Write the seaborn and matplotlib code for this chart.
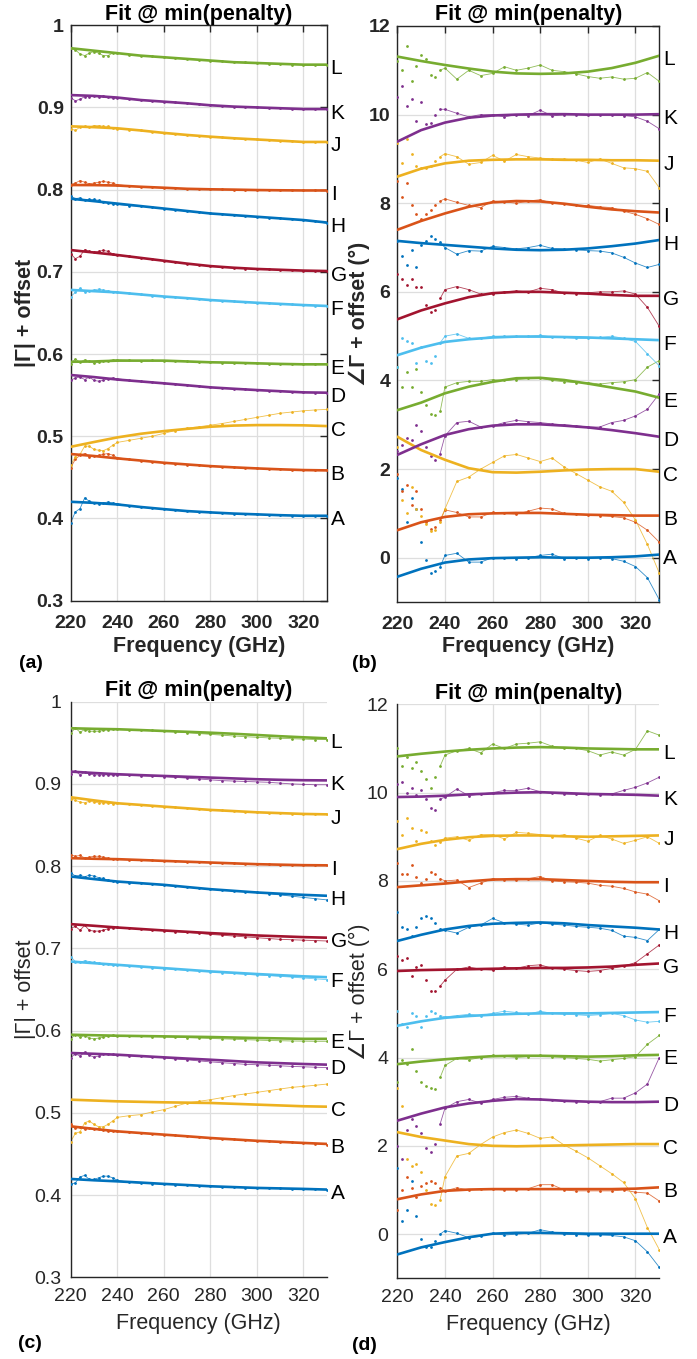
import numpy as np
import matplotlib
matplotlib.use("Agg")
import matplotlib.pyplot as plt
import seaborn as sns

# ---------------- data ----------------
freq_meas = [220, 222, 224, 226, 228, 230, 232, 234, 236, 238, 240,
             245, 250, 255, 260, 265, 270, 275, 280, 285, 290, 295,
             300, 305, 310, 315, 320, 325, 330]
freq_fit = [220, 230, 240, 250, 260, 270, 280, 290, 300, 310, 320, 330]
series = ["A", "B", "C", "D", "E", "F", "G", "H", "I", "J", "K", "L"]
colors = ["#0072BD", "#D95319", "#EDB120", "#7E2F8E", "#77AC30", "#4DBEEE",
          "#A2142F", "#0072BD", "#D95319", "#EDB120", "#7E2F8E", "#77AC30"]

# panel (a): |Gamma| + offset
fit_a = {
    "A": [0.4203, 0.419, 0.4171, 0.414, 0.4114, 0.409, 0.4074, 0.406, 0.405, 0.404, 0.4033, 0.4033],
    "B": [0.4784, 0.476, 0.4731, 0.4705, 0.4678, 0.4657, 0.4637, 0.4622, 0.4609, 0.4598, 0.4589, 0.4585],
    "C": [0.4872, 0.493, 0.4986, 0.503, 0.5063, 0.509, 0.5116, 0.513, 0.5136, 0.5136, 0.5133, 0.5124],
    "D": [0.5745, 0.572, 0.569, 0.5667, 0.5644, 0.562, 0.5595, 0.5578, 0.5562, 0.5548, 0.5534, 0.553],
    "E": [0.5906, 0.591, 0.592, 0.592, 0.592, 0.591, 0.590, 0.5895, 0.5887, 0.588, 0.5875, 0.5875],
    "F": [0.678, 0.6765, 0.675, 0.6725, 0.670, 0.668, 0.6657, 0.664, 0.6624, 0.661, 0.6596, 0.6585],
    "G": [0.7265, 0.7235, 0.7205, 0.717, 0.7135, 0.710, 0.707, 0.705, 0.7035, 0.7025, 0.7015, 0.701],
    "H": [0.789, 0.786, 0.783, 0.780, 0.777, 0.774, 0.771, 0.769, 0.767, 0.765, 0.763, 0.760],
    "I": [0.8056, 0.8055, 0.805, 0.8035, 0.8023, 0.801, 0.8004, 0.800, 0.7995, 0.7992, 0.799, 0.799],
    "J": [0.877, 0.876, 0.8746, 0.872, 0.869, 0.8665, 0.8644, 0.8625, 0.861, 0.8595, 0.858, 0.858],
    "K": [0.915, 0.914, 0.912, 0.909, 0.907, 0.905, 0.9026, 0.901, 0.900, 0.899, 0.898, 0.898],
    "L": [0.972, 0.969, 0.966, 0.963, 0.961, 0.959, 0.957, 0.955, 0.954, 0.953, 0.952, 0.952],
}
meas_a = {
    "A": [0.395, 0.408, 0.412, 0.425, 0.421, 0.419, 0.418, 0.419, 0.420, 0.419, 0.418, 0.4155, 0.414, 0.4125, 0.4115, 0.410, 0.409, 0.408, 0.4075, 0.4065, 0.406, 0.4055, 0.405, 0.4045, 0.404, 0.4035, 0.4033, 0.403, 0.403],
    "B": [0.462, 0.472, 0.477, 0.479, 0.475, 0.476, 0.477, 0.478, 0.479, 0.477, 0.474, 0.472, 0.4705, 0.469, 0.468, 0.4665, 0.4655, 0.4645, 0.4637, 0.463, 0.4622, 0.4615, 0.4609, 0.4603, 0.4598, 0.4593, 0.4589, 0.4586, 0.4584],
    "C": [0.465, 0.475, 0.478, 0.488, 0.488, 0.484, 0.483, 0.4825, 0.485, 0.489, 0.4925, 0.495, 0.4975, 0.500, 0.5035, 0.507, 0.510, 0.5115, 0.5135, 0.5155, 0.518, 0.5205, 0.523, 0.5255, 0.528, 0.5295, 0.531, 0.532, 0.5327],
    "D": [0.568, 0.571, 0.572, 0.569, 0.572, 0.568, 0.567, 0.568, 0.570, 0.571, 0.570, 0.568, 0.5667, 0.5655, 0.5644, 0.5632, 0.562, 0.5607, 0.5595, 0.5587, 0.5578, 0.557, 0.5562, 0.5555, 0.5548, 0.554, 0.5534, 0.5532, 0.553],
    "E": [0.588, 0.594, 0.590, 0.593, 0.591, 0.589, 0.590, 0.591, 0.592, 0.593, 0.593, 0.5925, 0.592, 0.5922, 0.592, 0.5915, 0.591, 0.5905, 0.590, 0.5897, 0.5895, 0.589, 0.5887, 0.5884, 0.588, 0.5877, 0.5875, 0.5875, 0.5873],
    "F": [0.670, 0.675, 0.680, 0.676, 0.677, 0.678, 0.679, 0.678, 0.677, 0.676, 0.675, 0.674, 0.6725, 0.671, 0.670, 0.669, 0.668, 0.667, 0.6657, 0.665, 0.664, 0.6632, 0.6624, 0.6617, 0.661, 0.6603, 0.6596, 0.659, 0.6585],
    "G": [0.722, 0.716, 0.719, 0.727, 0.725, 0.724, 0.725, 0.726, 0.725, 0.722, 0.7205, 0.719, 0.717, 0.7152, 0.7135, 0.7118, 0.710, 0.7085, 0.707, 0.706, 0.705, 0.704, 0.7035, 0.703, 0.7025, 0.702, 0.7015, 0.7012, 0.701],
    "H": [0.792, 0.789, 0.790, 0.787, 0.788, 0.788, 0.787, 0.785, 0.784, 0.783, 0.782, 0.7805, 0.780, 0.7785, 0.777, 0.7755, 0.774, 0.7725, 0.771, 0.770, 0.769, 0.768, 0.767, 0.766, 0.765, 0.764, 0.763, 0.7615, 0.759],
    "I": [0.806, 0.808, 0.811, 0.809, 0.807, 0.808, 0.809, 0.810, 0.809, 0.808, 0.806, 0.8045, 0.8035, 0.803, 0.8023, 0.8016, 0.801, 0.8007, 0.8004, 0.8002, 0.800, 0.7997, 0.7995, 0.7993, 0.7992, 0.7991, 0.799, 0.799, 0.7988],
    "J": [0.874, 0.872, 0.876, 0.877, 0.876, 0.878, 0.878, 0.877, 0.877, 0.875, 0.874, 0.873, 0.872, 0.8705, 0.869, 0.868, 0.8665, 0.8655, 0.8644, 0.8635, 0.8625, 0.862, 0.861, 0.8603, 0.8595, 0.8588, 0.858, 0.858, 0.8578],
    "K": [0.912, 0.908, 0.910, 0.913, 0.913, 0.914, 0.913, 0.914, 0.913, 0.912, 0.911, 0.910, 0.909, 0.908, 0.907, 0.906, 0.905, 0.904, 0.903, 0.902, 0.901, 0.9005, 0.900, 0.8995, 0.899, 0.8985, 0.898, 0.898, 0.8978],
    "L": [0.972, 0.970, 0.965, 0.963, 0.966, 0.968, 0.966, 0.963, 0.963, 0.966, 0.966, 0.964, 0.963, 0.962, 0.961, 0.960, 0.959, 0.958, 0.957, 0.956, 0.955, 0.955, 0.954, 0.953, 0.953, 0.952, 0.952, 0.952, 0.951],
}

# panel (b): angle(Gamma) + offset (deg)
fit_b = {
    "A": [-0.43, -0.25, -0.11, -0.04, -0.01, 0.0, 0.01, 0.0, 0.0, 0.01, 0.03, 0.07],
    "B": [0.62, 0.80, 0.92, 0.98, 1.0, 1.01, 1.01, 0.99, 0.97, 0.96, 0.95, 0.95],
    "C": [2.73, 2.43, 2.21, 2.02, 1.93, 1.92, 1.94, 1.97, 1.99, 2.0, 2.0, 1.94],
    "D": [2.32, 2.56, 2.77, 2.90, 2.98, 3.01, 3.01, 2.98, 2.94, 2.88, 2.81, 2.73],
    "E": [3.33, 3.50, 3.71, 3.86, 3.97, 4.05, 4.06, 4.01, 3.93, 3.84, 3.75, 3.61],
    "F": [4.57, 4.74, 4.87, 4.93, 4.97, 4.99, 4.99, 4.98, 4.97, 4.95, 4.93, 4.91],
    "G": [5.38, 5.58, 5.74, 5.88, 5.97, 6.0, 6.0, 5.98, 5.96, 5.93, 5.91, 5.91],
    "H": [7.15, 7.10, 7.06, 7.02, 6.98, 6.95, 6.94, 6.95, 6.98, 7.03, 7.09, 7.17],
    "I": [7.40, 7.60, 7.77, 7.92, 8.02, 8.05, 8.04, 7.99, 7.92, 7.86, 7.82, 7.79],
    "J": [8.60, 8.78, 8.90, 8.96, 8.98, 8.99, 8.99, 8.98, 8.98, 8.97, 8.97, 8.96],
    "K": [9.39, 9.65, 9.82, 9.93, 9.98, 10.0, 10.01, 10.01, 10.0, 10.0, 10.0, 10.01],
    "L": [11.31, 11.21, 11.12, 11.04, 10.97, 10.93, 10.92, 10.93, 10.97, 11.05, 11.17, 11.33],
}
meas_b = {
    "A": [1.8, 1.55, 0.8, 1.35, 1.1, 0.35, -0.05, -0.35, -0.3, -0.2, 0.05, 0.1, -0.1, -0.1, 0.0, 0.0, -0.02, 0.0, 0.05, 0.08, -0.02, 0.0, -0.02, 0.0, -0.02, -0.08, -0.2, -0.45, -0.95],
    "B": [1.9, 1.5, 1.65, 1.2, 1.5, 1.1, 0.8, 0.65, 0.7, 0.85, 1.08, 1.02, 0.92, 0.92, 1.02, 1.0, 0.98, 1.05, 1.12, 1.1, 1.0, 0.98, 0.97, 0.95, 0.93, 0.9, 0.8, 0.62, 0.35],
    "C": [2.5, 1.3, 1.0, 1.6, 1.1, 0.95, 0.75, 0.6, 0.62, 0.8, 1.1, 1.72, 1.82, 2.0, 2.15, 2.3, 2.33, 2.25, 2.17, 2.25, 2.05, 1.9, 1.75, 1.6, 1.5, 1.25, 0.85, 0.3, -0.35],
    "D": [2.4, 2.55, 2.7, 2.65, 3.0, 2.85, 2.5, 2.3, 2.2, 2.35, 2.75, 3.05, 3.08, 2.95, 2.98, 3.05, 3.1, 3.07, 3.05, 3.02, 3.0, 2.98, 2.95, 2.95, 3.05, 3.1, 3.2, 3.35, 3.7],
    "E": [4.3, 3.85, 4.2, 3.85, 4.25, 3.75, 3.45, 3.25, 3.22, 3.3, 3.85, 3.95, 3.98, 3.98, 4.02, 4.0, 4.02, 4.05, 4.05, 4.0, 3.97, 3.95, 3.95, 3.92, 3.95, 3.97, 4.02, 4.3, 4.45],
    "F": [4.3, 4.95, 4.9, 4.85, 4.4, 4.75, 4.45, 4.4, 4.55, 4.85, 5.0, 5.05, 4.95, 4.95, 5.0, 5.0, 5.0, 5.0, 5.02, 4.98, 4.97, 4.95, 4.95, 4.97, 5.0, 4.95, 4.88, 4.6, 4.33],
    "G": [6.4, 6.3, 6.15, 6.3, 6.1, 6.1, 5.7, 5.55, 5.6, 5.85, 6.05, 6.12, 6.05, 5.95, 5.95, 6.0, 6.02, 6.0, 6.08, 6.05, 5.97, 5.96, 5.98, 6.0, 6.0, 6.02, 5.95, 5.65, 5.22],
    "H": [7.15, 6.8, 6.6, 6.95, 6.55, 7.05, 7.15, 7.25, 7.2, 7.12, 7.0, 6.85, 6.93, 6.92, 7.03, 7.0, 6.97, 7.0, 7.05, 6.98, 6.97, 6.95, 6.93, 6.92, 6.88, 6.78, 6.65, 6.55, 6.62],
    "I": [8.5, 8.15, 8.45, 7.95, 7.75, 7.65, 7.75, 7.85, 7.95, 8.05, 8.1, 8.02, 7.95, 7.9, 8.05, 8.03, 8.0, 8.05, 8.08, 8.0, 7.98, 7.95, 7.95, 7.92, 7.9, 7.82, 7.75, 7.65, 7.52],
    "J": [9.35, 8.9, 9.45, 9.1, 8.85, 8.8, 8.8, 8.85, 8.95, 9.05, 9.12, 9.05, 8.88, 8.92, 9.08, 8.95, 9.1, 9.05, 9.02, 9.0, 9.0, 8.97, 8.92, 9.0, 8.9, 8.8, 8.78, 8.72, 8.35],
    "K": [10.4, 10.65, 10.2, 10.35, 9.85, 10.28, 9.78, 9.8, 10.0, 10.12, 10.12, 10.03, 9.95, 10.0, 10.0, 9.95, 10.0, 9.98, 10.1, 9.97, 10.0, 10.0, 9.99, 10.0, 10.0, 9.98, 9.95, 9.85, 9.68],
    "L": [11.2, 11.0, 11.55, 10.75, 11.1, 11.35, 11.25, 10.9, 10.85, 11.0, 11.05, 10.8, 11.0, 10.88, 10.93, 11.08, 11.0, 11.05, 11.12, 11.0, 10.97, 10.92, 10.86, 10.82, 10.85, 10.8, 10.82, 10.95, 10.75],
}

# panel (c): |Gamma| + offset
fit_c = {
    "A": [0.4196, 0.418, 0.4167, 0.4152, 0.4136, 0.4122, 0.4107, 0.4097, 0.4087, 0.4081, 0.4075, 0.4067],
    "B": [0.4836, 0.4805, 0.4775, 0.4755, 0.4735, 0.4715, 0.4694, 0.4677, 0.466, 0.4647, 0.4634, 0.4622],
    "C": [0.516, 0.515, 0.514, 0.5134, 0.5128, 0.5124, 0.512, 0.511, 0.510, 0.509, 0.508, 0.5075],
    "D": [0.5728, 0.5718, 0.5707, 0.5691, 0.5675, 0.566, 0.5646, 0.563, 0.5614, 0.5604, 0.5594, 0.5586],
    "E": [0.595, 0.5944, 0.5938, 0.5934, 0.593, 0.5926, 0.5922, 0.5916, 0.591, 0.5905, 0.590, 0.590],
    "F": [0.684, 0.682, 0.680, 0.678, 0.676, 0.674, 0.672, 0.6704, 0.6688, 0.6674, 0.666, 0.665],
    "G": [0.7295, 0.7275, 0.7254, 0.7236, 0.7218, 0.7202, 0.7186, 0.7172, 0.7157, 0.7147, 0.7137, 0.713],
    "H": [0.7874, 0.7843, 0.7813, 0.7793, 0.7773, 0.7746, 0.772, 0.770, 0.768, 0.7665, 0.7651, 0.764],
    "I": [0.8097, 0.809, 0.8085, 0.8075, 0.8064, 0.8054, 0.8044, 0.8034, 0.8024, 0.8018, 0.8012, 0.801],
    "J": [0.8838, 0.880, 0.8765, 0.8745, 0.8724, 0.8704, 0.8684, 0.867, 0.8655, 0.8645, 0.8635, 0.863],
    "K": [0.915, 0.9133, 0.9118, 0.9107, 0.9097, 0.9087, 0.9077, 0.9067, 0.9057, 0.905, 0.9045, 0.9043],
    "L": [0.9677, 0.967, 0.9665, 0.9655, 0.9644, 0.9634, 0.9623, 0.961, 0.9595, 0.958, 0.9567, 0.9555],
}
meas_c = {
    "A": [0.413, 0.415, 0.422, 0.424, 0.419, 0.419, 0.421, 0.423, 0.423, 0.421, 0.418, 0.4155, 0.4145, 0.414, 0.4136, 0.4128, 0.4122, 0.4115, 0.4107, 0.4102, 0.4097, 0.4092, 0.4087, 0.4084, 0.408, 0.4077, 0.4074, 0.407, 0.4065],
    "B": [0.486, 0.481, 0.483, 0.480, 0.481, 0.480, 0.480, 0.479, 0.478, 0.478, 0.4775, 0.4765, 0.4755, 0.4745, 0.4735, 0.4725, 0.4715, 0.4705, 0.4694, 0.4685, 0.4677, 0.4668, 0.466, 0.4653, 0.4647, 0.464, 0.4633, 0.4625, 0.4615],
    "C": [0.465, 0.475, 0.477, 0.488, 0.490, 0.486, 0.483, 0.483, 0.486, 0.490, 0.4945, 0.4965, 0.4978, 0.501, 0.5039, 0.508, 0.512, 0.514, 0.516, 0.5185, 0.521, 0.523, 0.5249, 0.527, 0.529, 0.531, 0.5322, 0.5335, 0.535],
    "D": [0.567, 0.572, 0.569, 0.574, 0.570, 0.568, 0.569, 0.571, 0.571, 0.571, 0.5705, 0.5695, 0.569, 0.568, 0.567, 0.5655, 0.5645, 0.5632, 0.562, 0.561, 0.560, 0.559, 0.5585, 0.558, 0.5572, 0.5565, 0.556, 0.5555, 0.555],
    "E": [0.590, 0.595, 0.592, 0.594, 0.591, 0.590, 0.591, 0.592, 0.593, 0.5945, 0.594, 0.5935, 0.593, 0.5928, 0.5925, 0.592, 0.5915, 0.591, 0.5905, 0.590, 0.5895, 0.589, 0.5885, 0.588, 0.5877, 0.5874, 0.5872, 0.587, 0.587],
    "F": [0.690, 0.684, 0.683, 0.685, 0.684, 0.683, 0.682, 0.681, 0.6805, 0.680, 0.6795, 0.6785, 0.6775, 0.6765, 0.6755, 0.6745, 0.6735, 0.6725, 0.6715, 0.6705, 0.6695, 0.6685, 0.6677, 0.667, 0.666, 0.665, 0.664, 0.663, 0.662],
    "G": [0.724, 0.727, 0.722, 0.728, 0.722, 0.721, 0.721, 0.722, 0.724, 0.725, 0.7255, 0.7245, 0.7235, 0.7225, 0.7215, 0.7205, 0.7195, 0.7183, 0.717, 0.716, 0.715, 0.714, 0.713, 0.712, 0.711, 0.7105, 0.710, 0.7095, 0.709],
    "H": [0.792, 0.788, 0.789, 0.787, 0.789, 0.788, 0.786, 0.785, 0.783, 0.782, 0.781, 0.780, 0.779, 0.778, 0.777, 0.7757, 0.7745, 0.773, 0.772, 0.771, 0.770, 0.769, 0.768, 0.7665, 0.765, 0.7635, 0.762, 0.7605, 0.759],
    "I": [0.814, 0.812, 0.813, 0.810, 0.811, 0.812, 0.812, 0.811, 0.810, 0.809, 0.8085, 0.808, 0.8075, 0.807, 0.8064, 0.8058, 0.8054, 0.8049, 0.8044, 0.8039, 0.8034, 0.8029, 0.8024, 0.8021, 0.8018, 0.8015, 0.8012, 0.801, 0.8008],
    "J": [0.882, 0.880, 0.878, 0.877, 0.879, 0.878, 0.877, 0.877, 0.8765, 0.876, 0.8765, 0.8755, 0.8745, 0.8735, 0.8724, 0.8714, 0.8704, 0.8694, 0.8684, 0.8677, 0.867, 0.8662, 0.8655, 0.865, 0.8645, 0.864, 0.8635, 0.8632, 0.863],
    "K": [0.912, 0.916, 0.911, 0.914, 0.912, 0.911, 0.911, 0.911, 0.911, 0.911, 0.911, 0.9105, 0.910, 0.9095, 0.909, 0.908, 0.907, 0.906, 0.905, 0.904, 0.9035, 0.903, 0.9025, 0.902, 0.901, 0.900, 0.8995, 0.899, 0.899],
    "L": [0.962, 0.968, 0.963, 0.966, 0.964, 0.964, 0.964, 0.965, 0.966, 0.9665, 0.9665, 0.966, 0.9655, 0.965, 0.9644, 0.9634, 0.9623, 0.9613, 0.9603, 0.9593, 0.9583, 0.9575, 0.9567, 0.956, 0.9555, 0.955, 0.9545, 0.954, 0.954],
}

# panel (d): angle(Gamma) + offset (deg)
fit_d = {
    "A": [-0.46, -0.30, -0.18, -0.07, 0.01, 0.03, 0.03, 0.02, 0.01, 0.01, 0.01, 0.01],
    "B": [0.79, 0.90, 0.98, 1.01, 1.02, 1.02, 1.02, 1.02, 1.02, 1.02, 1.03, 1.06],
    "C": [2.31, 2.20, 2.12, 2.04, 2.0, 1.99, 2.0, 2.01, 2.02, 2.03, 2.04, 2.04],
    "D": [2.57, 2.73, 2.87, 2.96, 3.02, 3.06, 3.05, 3.02, 3.0, 2.99, 2.99, 3.0],
    "E": [3.85, 3.91, 3.96, 4.0, 4.03, 4.04, 4.04, 4.03, 4.02, 4.03, 4.05, 4.06],
    "F": [4.72, 4.82, 4.90, 4.94, 4.97, 4.99, 5.0, 5.0, 5.0, 5.01, 5.02, 5.03],
    "G": [5.96, 5.98, 5.99, 6.0, 6.01, 6.02, 6.03, 6.03, 6.04, 6.06, 6.10, 6.13],
    "H": [6.64, 6.78, 6.90, 6.98, 7.03, 7.05, 7.06, 7.04, 7.0, 6.97, 6.94, 6.90],
    "I": [7.86, 7.90, 7.94, 7.99, 8.03, 8.04, 8.04, 8.02, 8.0, 7.98, 7.97, 7.97],
    "J": [8.72, 8.84, 8.93, 8.99, 9.02, 9.03, 9.03, 9.01, 9.0, 9.01, 9.02, 9.03],
    "K": [9.90, 9.91, 9.93, 9.96, 9.98, 10.0, 10.01, 9.99, 9.97, 9.96, 9.95, 9.93],
    "L": [10.82, 10.88, 10.93, 10.97, 11.0, 11.02, 11.03, 11.02, 11.0, 10.99, 10.98, 10.98],
}
meas_d = {
    "A": [1.5, 0.3, 0.55, 1.2, 0.4, -0.1, -0.3, -0.3, -0.15, 0.0, 0.08, 0.02, -0.08, -0.05, 0.02, -0.02, 0.0, 0.02, 0.1, 0.05, 0.0, -0.01, -0.02, -0.02, -0.03, -0.06, -0.15, -0.4, -0.75],
    "B": [0.55, 1.0, 1.3, 1.05, 0.85, 1.1, 1.15, 1.2, 1.15, 1.05, 0.98, 1.05, 1.0, 1.02, 1.02, 1.0, 1.0, 1.03, 1.12, 1.12, 1.0, 0.98, 0.98, 0.98, 0.98, 1.0, 0.95, 0.93, 0.75],
    "C": [3.3, 2.9, 1.7, 1.55, 1.6, 1.4, 1.0, 0.68, 0.65, 0.78, 1.3, 1.77, 1.83, 2.03, 2.2, 2.3, 2.36, 2.28, 2.17, 2.2, 2.02, 1.88, 1.73, 1.55, 1.37, 1.17, 0.8, 0.15, -0.35],
    "D": [2.0, 1.7, 2.35, 2.6, 2.45, 2.3, 1.95, 1.85, 2.05, 2.5, 2.85, 3.0, 3.05, 2.97, 3.05, 3.1, 3.12, 3.08, 3.05, 3.03, 3.02, 3.0, 3.0, 3.0, 3.08, 3.08, 3.2, 3.4, 4.0],
    "E": [3.45, 3.95, 3.85, 4.2, 3.7, 3.45, 3.35, 3.3, 3.28, 3.55, 3.82, 3.98, 3.95, 4.0, 4.05, 4.03, 4.0, 4.02, 4.05, 4.02, 4.0, 3.98, 3.96, 3.92, 3.95, 3.98, 4.02, 4.3, 4.5],
    "F": [5.05, 4.75, 4.7, 5.0, 4.95, 4.7, 4.95, 5.05, 5.0, 4.95, 4.92, 4.95, 4.98, 4.95, 5.0, 5.05, 5.02, 4.98, 5.05, 5.0, 4.98, 4.97, 4.95, 4.97, 5.0, 4.95, 4.85, 4.8, 4.82],
    "G": [6.3, 6.2, 6.25, 5.85, 6.05, 6.1, 5.75, 5.5, 5.5, 5.62, 5.75, 6.0, 6.05, 6.0, 5.98, 6.05, 6.02, 6.08, 6.1, 6.02, 6.0, 5.97, 5.95, 5.97, 6.02, 6.07, 6.15, 6.35, 6.55],
    "H": [7.3, 6.95, 6.9, 6.75, 6.95, 7.15, 7.2, 7.15, 7.05, 6.92, 6.88, 6.82, 6.95, 7.0, 7.15, 7.05, 7.02, 7.0, 7.05, 7.02, 7.0, 6.97, 6.95, 6.93, 6.88, 6.75, 6.72, 6.65, 6.9],
    "I": [8.4, 8.15, 8.15, 8.35, 8.1, 7.95, 8.05, 8.2, 8.15, 8.05, 8.0, 8.02, 7.85, 7.95, 8.05, 8.03, 8.02, 8.05, 8.1, 8.0, 7.98, 7.97, 7.95, 7.9, 7.88, 7.83, 7.75, 7.7, 7.55],
    "J": [9.35, 9.05, 9.42, 9.2, 8.9, 9.15, 9.1, 8.9, 8.82, 8.88, 8.97, 9.0, 8.92, 9.05, 9.05, 8.95, 9.1, 9.08, 9.05, 9.0, 9.05, 8.97, 8.9, 9.03, 8.95, 8.85, 8.92, 9.0, 8.85],
    "K": [10.2, 10.25, 10.0, 10.1, 9.95, 10.05, 9.85, 9.65, 9.6, 9.85, 9.9, 10.08, 9.93, 9.97, 10.0, 10.05, 10.05, 10.1, 10.02, 9.98, 9.97, 9.96, 9.96, 9.95, 9.97, 10.05, 10.12, 10.22, 10.35],
    "L": [11.0, 10.6, 10.8, 10.55, 10.7, 10.5, 10.3, 10.1, 10.35, 10.6, 10.85, 10.95, 11.0, 10.9, 11.1, 11.0, 11.1, 11.12, 11.15, 11.05, 11.0, 11.0, 10.95, 10.85, 10.92, 10.85, 10.98, 11.4, 11.3],
}

x_ticks = [220, 240, 260, 280, 300, 320]
mag_ticks = [0.3, 0.4, 0.5, 0.6, 0.7, 0.8, 0.9, 1.0]
mag_tick_labels = ["0.3", "0.4", "0.5", "0.6", "0.7", "0.8", "0.9", "1"]
ph_ticks = [0, 2, 4, 6, 8, 10, 12]
ph_tick_labels = ["0", "2", "4", "6", "8", "10", "12"]

# ---------------- style ----------------
sns.set_theme(style="white")
plt.rcParams["font.family"] = ["Liberation Sans", "DejaVu Sans"]
plt.rcParams["axes.unicode_minus"] = False

W, H = 697, 1359
fig = plt.figure(figsize=(W / 100, H / 100), dpi=100)
AXC = "#262626"

# (left, top, right, bottom) in pixels
panels = [
    dict(box=(70.7, 25.2, 326.7, 600.7), fit=fit_a, meas=meas_a, kind="mag", bold=True,
         ylabel="|Γ| + offset", ylx=-0.137, xly=-0.061, tag="(a)", tagxy=(19, 663)),
    dict(box=(397.3, 26.0, 659.3, 602.0), fit=fit_b, meas=meas_b, kind="ph", bold=True,
         ylabel="∠Γ + offset (°)", ylx=-0.105, xly=-0.059, tag="(b)", tagxy=(352, 663)),
    dict(box=(70.7, 701.7, 326.7, 1277.3), fit=fit_c, meas=meas_c, kind="mag", bold=False,
         ylabel="|Γ| + offset", ylx=-0.137, xly=-0.062, tag="(c)", tagxy=(18, 1344)),
    dict(box=(397.3, 704.3, 659.3, 1278.3), fit=fit_d, meas=meas_d, kind="ph", bold=False,
         ylabel="∠Γ + offset (°)", ylx=-0.105, xly=-0.062, tag="(d)", tagxy=(352, 1346)),
]

fm = np.array(freq_meas, dtype=float)

for p in panels:
    l, t, r, b = p["box"]
    ax = fig.add_axes([l / W, 1 - b / H, (r - l) / W, (b - t) / H])
    wt = "bold" if p["bold"] else "normal"

    for lab, col in zip(series, colors):
        y = np.array(p["meas"][lab], dtype=float)
        start = 0 if p["kind"] == "mag" else 9
        sns.lineplot(x=fm[start:], y=y[start:], ax=ax, color=col, linewidth=0.6,
                     alpha=0.8, estimator=None, sort=False, legend=False)
        sns.scatterplot(x=fm, y=y, ax=ax, color=col, s=4, linewidth=0,
                        legend=False, zorder=3)
        sns.lineplot(x=freq_fit, y=p["fit"][lab], ax=ax, color=col, linewidth=1.9,
                     estimator=None, sort=False, legend=False, zorder=4)
        ax.annotate(lab, xy=(330, p["fit"][lab][-1]), xycoords="data",
                    xytext=(4, -4), textcoords="offset pixels",
                    ha="left", va="center", fontsize=15, color="black",
                    annotation_clip=False)

    ax.set_xlim(220, 330)
    ax.set_xticks(x_ticks)
    ax.set_xticklabels([str(v) for v in x_ticks])
    if p["kind"] == "mag":
        ax.set_ylim(0.3, 1.0)
        ax.set_yticks(mag_ticks)
        ax.set_yticklabels(mag_tick_labels)
    else:
        ax.set_ylim(-1, 12)
        ax.set_yticks(ph_ticks)
        ax.set_yticklabels(ph_tick_labels)

    ax.grid(True, color="#dedede", linewidth=0.9)
    ax.set_axisbelow(True)

    if p["bold"]:
        ax.tick_params(axis="both", direction="in", length=5, width=1.0,
                       colors=AXC, labelsize=14, top=True, right=True)
        ax.tick_params(axis="x", pad=10)
        ax.tick_params(axis="y", pad=5)
        for s in ax.spines.values():
            s.set_visible(True)
            s.set_color(AXC)
            s.set_linewidth(1.0)
    else:
        ax.tick_params(axis="both", direction="out", length=4, width=1.0,
                       colors=AXC, labelsize=14, top=False, right=False)
        ax.tick_params(axis="x", pad=3.5)
        ax.tick_params(axis="y", pad=2.5)
        for side in ["top", "right"]:
            ax.spines[side].set_visible(False)
        for side in ["left", "bottom"]:
            ax.spines[side].set_color(AXC)
            ax.spines[side].set_linewidth(1.0)

    for tl in ax.get_xticklabels() + ax.get_yticklabels():
        tl.set_fontweight(wt)
        tl.set_color(AXC)

    ax.set_title("Fit @ min(penalty)", fontsize=15.5, fontweight="bold",
                 color="black", pad=4)
    ax.set_xlabel("Frequency (GHz)", fontsize=15.5, fontweight=wt, color=AXC)
    ax.set_ylabel(p["ylabel"], fontsize=15.5, fontweight=wt, color=AXC)
    ax.xaxis.set_label_coords(0.5, p["xly"])
    ax.yaxis.set_label_coords(p["ylx"], 0.5)

    tx, ty = p["tagxy"]
    fig.text(tx / W, 1 - ty / H, p["tag"], fontsize=14, fontweight="bold",
             color="black", ha="left", va="center")

fig.savefig("out.png", dpi=100)
